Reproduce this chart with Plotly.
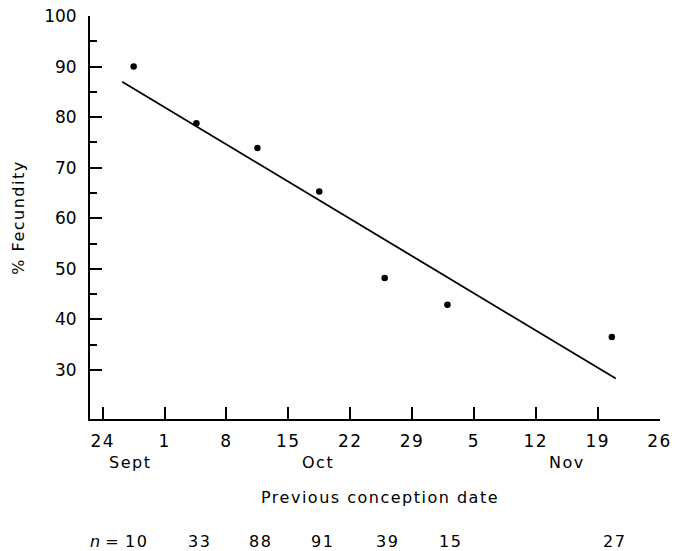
import plotly.graph_objects as go

# ---- data (x = days after 24 Sept) ----
conception_day = [3.5, 10.6, 17.5, 24.5, 31.9, 39.0, 57.6]
fecundity_pct = [90.0, 78.8, 73.9, 65.3, 48.2, 42.9, 36.5]
sample_n = [10, 33, 88, 91, 39, 15, 27]

fit_day = [2.2, 58.05]
fit_pct = [87.0, 28.3]

x_tick_days = [0, 7, 14, 21, 28, 35, 42, 49, 56, 63]
x_tick_labels = ["24", "1", "8", "15", "22", "29", "5", "12", "19", "26"]
month_names = ["Sept", "Oct", "Nov"]
month_label_day = [3.1, 24.4, 52.5]

y_tick_vals = [30, 40, 50, 60, 70, 80, 90, 100]
y_minor_vals = [35, 45, 55, 65, 75, 85, 95]

FONT = "DejaVu Sans"
SP = '<span style="letter-spacing:1.5px">{}</span>'

fig = go.Figure()
fig.add_trace(go.Scatter(x=fit_day, y=fit_pct, mode="lines",
                         line=dict(color="black", width=1.8),
                         showlegend=False, hoverinfo="skip"))
fig.add_trace(go.Scatter(x=conception_day, y=fecundity_pct, mode="markers",
                         marker=dict(color="black", size=6.5),
                         showlegend=False))

annotations = []
for name, d in zip(month_names, month_label_day):
    annotations.append(dict(x=d, y=-0.109, xref="x", yref="paper",
                            text=SP.format(name),
                            showarrow=False, xanchor="center", yanchor="middle",
                            font=dict(family=FONT, size=16, color="black")))
for d, n in zip(conception_day, sample_n):
    annotations.append(dict(x=d, y=-0.305, xref="x", yref="paper",
                            text=SP.format(n),
                            showarrow=False, xanchor="center", yanchor="middle",
                            xshift=3,
                            font=dict(family=FONT, size=16, color="black")))
annotations.append(dict(x=conception_day[0], y=-0.305, xref="x", yref="paper",
                        text="<i>n</i> =", showarrow=False, xanchor="right",
                        yanchor="middle", xshift=-13,
                        font=dict(family=FONT, size=16, color="black")))
annotations.append(dict(x=0.509, y=-0.196, xref="paper", yref="paper",
                        text=SP.format("Previous conception date"),
                        showarrow=False,
                        xanchor="center", yanchor="middle",
                        font=dict(family=FONT, size=16, color="black")))

fig.update_layout(
    width=675, height=551,
    margin=dict(l=90, r=15, t=16, b=132),
    paper_bgcolor="white", plot_bgcolor="white",
    font=dict(family=FONT, size=16, color="black"),
    annotations=annotations,
    xaxis=dict(range=[-1.44, 63.05], showgrid=False, zeroline=False,
               automargin=False,
               showline=True, linecolor="black", linewidth=2,
               tickmode="array", tickvals=x_tick_days,
               ticktext=[SP.format(t) for t in x_tick_labels],
               ticks="inside", ticklen=12, tickwidth=2, tickcolor="black",
               ticklabelstandoff=6,
               tickfont=dict(family=FONT, size=17, color="black")),
    yaxis=dict(range=[20.3, 100], showgrid=False, zeroline=False,
               automargin=False,
               showline=True, linecolor="black", linewidth=2,
               tickmode="array", tickvals=y_tick_vals,
               ticks="inside", ticklen=12, tickwidth=2, tickcolor="black",
               ticklabelstandoff=8,
               minor=dict(tickmode="array", tickvals=y_minor_vals,
                          ticks="inside", ticklen=7, tickwidth=2,
                          tickcolor="black", showgrid=False),
               title=dict(text=SP.format("% Fecundity"), standoff=16,
                          font=dict(family=FONT, size=16, color="black")),
               tickfont=dict(family=FONT, size=17, color="black")),
)

fig.write_html("out.html")
